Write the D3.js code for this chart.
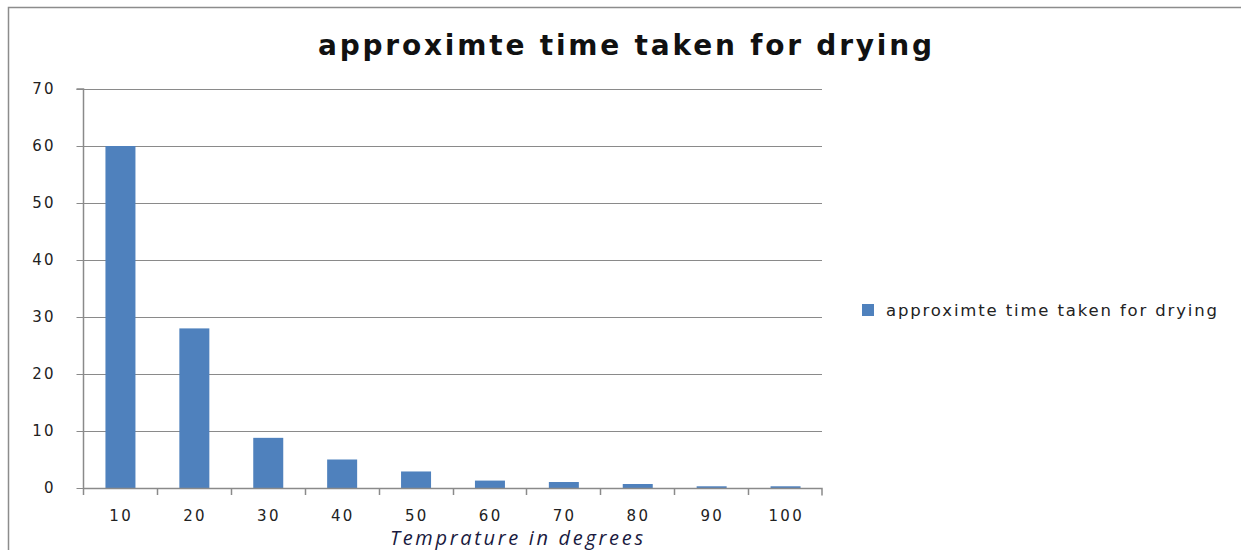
<!DOCTYPE html>
<html><head><meta charset="utf-8">
<script src="https://cdn.jsdelivr.net/npm/d3@7"></script>
<style>body{margin:0;background:#fff}svg{display:block}</style>
</head><body>
<script>
const categories = ["10","20","30","40","50","60","70","80","90","100"];
const values = [60, 28, 8.8, 5, 2.9, 1.3, 1.05, 0.7, 0.3, 0.3];
const yTicks = [0,10,20,30,40,50,60,70];
const seriesName = "approximte time taken for drying";
const titleText = "approximte time taken for drying";
const xTitle = "Temprature in degrees";

const W = 1241, H = 550;
const svg = d3.select("body").append("svg").attr("width", W).attr("height", H);

// outer chart border
svg.append("path").attr("d", `M8.5,${H} V7.5 H${W}`).attr("fill","none").attr("stroke","#8c8c8c").attr("stroke-width",1.5);

const L = 83, R = 822, T = 89, B = 488;
const xb = d3.scaleBand().domain(categories).range([L, R]);
const y = d3.scaleLinear().domain([0,70]).range([B, T]);

// gridlines
svg.append("g").selectAll("line").data(yTicks.filter(d=>d>0)).join("line")
  .attr("x1", L).attr("x2", R).attr("y1", d=>Math.round(y(d))+0.5).attr("y2", d=>Math.round(y(d))+0.5)
  .attr("stroke","#8a8a8a").attr("stroke-width",1);

// bars
svg.append("g").selectAll("rect").data(values).join("rect")
  .attr("x", (d,i)=> xb(categories[i]) + xb.bandwidth()/2 - 14.5)
  .attr("width", 30)
  .attr("y", d=>y(d)).attr("height", d=>B - y(d))
  .attr("fill","#4f81bd");

// y axis
const ya = svg.append("g").attr("transform",`translate(${L+0.5},0)`)
  .call(d3.axisLeft(y).tickValues(yTicks).tickSize(7).tickPadding(23));
ya.select(".domain").attr("stroke","#8a8a8a").attr("stroke-width",1.5).attr("d", `M-7,${T}H0V${B}`);
ya.selectAll(".tick line").attr("stroke","#8a8a8a");
ya.selectAll("text").attr("font-family","DejaVu Sans").attr("font-size",15).attr("fill","#222")
  .attr("letter-spacing","2.3px").attr("dx","2.3");

// x axis
const xa = svg.append("g").attr("transform",`translate(0,${B+0.5})`)
  .call(d3.axisBottom(xb).tickSize(0).tickPadding(22));
xa.select(".domain").attr("stroke","#8a8a8a").attr("stroke-width",1.5).attr("d", `M${L},0H${R}V7`);
xa.selectAll("text").attr("font-family","DejaVu Sans").attr("font-size",15).attr("fill","#222")
  .attr("letter-spacing","2.3px").attr("dx","1.2");
svg.append("g").selectAll("line").data(categories).join("line")
  .attr("x1", d=>Math.round(xb(d))+0.5).attr("x2", d=>Math.round(xb(d))+0.5)
  .attr("y1", B).attr("y2", B+7).attr("stroke","#8a8a8a").attr("stroke-width",1.5);

// title
svg.append("text").attr("x", 318).attr("y", 55)
  .attr("font-family","DejaVu Sans").attr("font-weight","bold").attr("font-size",28)
  .attr("textLength", 614).attr("lengthAdjust","spacing")
  .attr("fill","#111").text(titleText);

// x title
svg.append("text").attr("x", 390).attr("y", 545)
  .attr("font-family","Open Sans").attr("font-style","italic").attr("font-size",20)
  .attr("textLength", 253).attr("lengthAdjust","spacing")
  .attr("fill","#1a1a40").text(xTitle);

// legend
svg.append("rect").attr("x",862).attr("y",304).attr("width",12).attr("height",12).attr("fill","#4f81bd");
svg.append("text").attr("x",886).attr("y",316).attr("font-family","DejaVu Sans").attr("font-size",16.5)
  .attr("textLength", 331).attr("lengthAdjust","spacing")
  .attr("fill","#222").text(seriesName);
</script>
</body></html>
